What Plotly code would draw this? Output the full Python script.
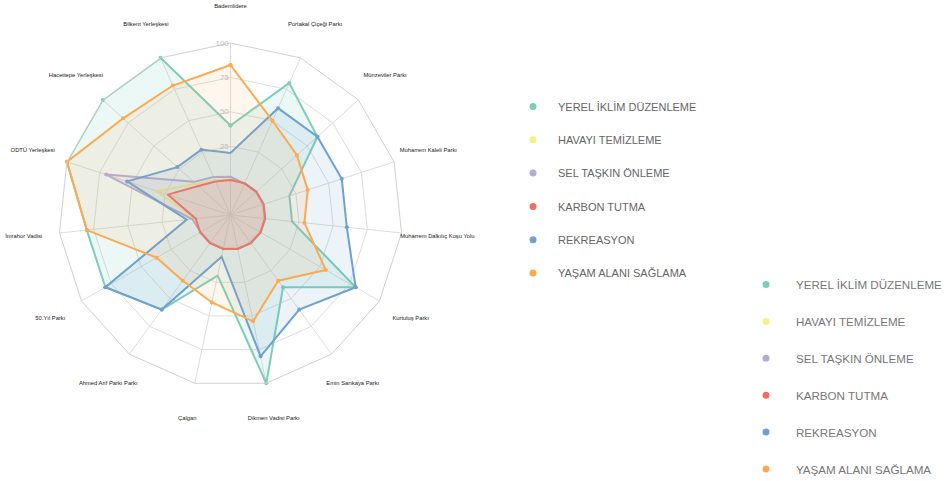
import plotly.graph_objects as go

categories = [
    "Bademlidere", "Portakal Çiçeği Parkı", "Münzeviler Parkı", "Muharrem Kaleli Parkı",
    "Muharrem Dalkılıç Koşu Yolu", "Kurtuluş Parkı", "Emin Sarıkaya Parkı", "Dikmen Vadisi Parkı",
    "Çalgan", "Ahmed Arif Parkı Parkı", "50.Yıl Parkı", "İmrahor Vadisi",
    "ODTÜ Yerleşkesi", "Hacettepe Yerleşkesi", "Bilkent Yerleşkesi",
]

series_names = [
    "YEREL İKLİM DÜZENLEME", "HAVAYI TEMİZLEME", "SEL TAŞKIN ÖNLEME",
    "KARBON TUTMA", "REKREASYON", "YAŞAM ALANI SAĞLAMA",
]

yerel_iklim = [40, 80, 60, 20, 20, 80, 40, 100, 20, 60, 80, 80, 100, 100, 100]
havayi_temizleme = [1, 0, 0, 0, 0, 0, 0, 0, 0, 0, 0, 1, 31, 9, 2.4]
sel_taskin = [2.8, 0, 0, 0, 0, 0, 0, 0, 0, 0, 0, 3, 70, 11, 5.3]
karbon_tutma = [0.4, 0.3, 0.4, 0.4, 0.4, 0.3, 0.2, 0.2, 0.2, 0.3, 0.4, 0.4, 23, 6.5, 1.7]
rekreasyon = [20, 60, 60, 60, 60, 80, 60, 80, 6, 60, 80, 7, 54, 27, 27]
yasam_alani = [84, 50, 40, 34, 29, 55, 34, 54, 40, 34, 37, 80, 100, 80, 78]

radial_ticks = [25, 50, 75, 100]

colors = ["#7dcdb9", "#f5f08c", "#b4aad6", "#f06e5f", "#6ea0d2", "#fbaa50"]
fills = ["rgba(125,205,185,0.15)", "rgba(245,240,140,0.12)", "rgba(180,170,215,0.12)",
         "rgba(240,110,95,0.15)", "rgba(110,160,210,0.13)", "rgba(251,170,80,0.10)"]

all_series = [yerel_iklim, havayi_temizleme, sel_taskin, karbon_tutma, rekreasyon, yasam_alani]

W, H = 948, 481
CX, CY, R = 230.5, 215.0, 172.0      # chart centre / outer ring radius (px)
LABEL_R = 208.0                      # radius of the category names (px)

fig = go.Figure()

for name, vals, col, fc in zip(series_names, all_series, colors, fills):
    fig.add_trace(go.Scatterpolar(
        r=vals + [vals[0]], theta=categories + [categories[0]],
        mode="lines+markers", fill="toself", fillcolor=fc,
        line=dict(color=col, width=2), marker=dict(color=col, size=4),
        name=name, showlegend=False, hoverinfo="r+theta+name", subplot="polar",
    ))

# category names on a second, invisible polar subplot that is a bit larger
fig.add_trace(go.Scatterpolar(
    r=[0.999] * len(categories), theta=categories, mode="text", text=categories,
    textposition="middle center", cliponaxis=False, showlegend=False, hoverinfo="skip",
    textfont=dict(family="Liberation Sans, Arial, sans-serif", size=5.8, color="#1a1a1a"),
    subplot="polar2",
))

# legend 1
for i, (name, col) in enumerate(zip(series_names, colors)):
    fig.add_trace(go.Scatterpolar(
        r=[None], theta=[categories[0]], mode="markers", name=name,
        marker=dict(color=col, size=7), legend="legend", legendgroup=f"a{i}",
    ))
# legend 2
for i, (name, col) in enumerate(zip(series_names, colors)):
    fig.add_trace(go.Scatterpolar(
        r=[None], theta=[categories[0]], mode="markers", name=name,
        marker=dict(color=col, size=7), legend="legend2", legendgroup=f"b{i}",
    ))

R2 = LABEL_R / 0.999

fig.update_layout(
    width=W, height=H,
    margin=dict(l=0, r=0, t=0, b=0, autoexpand=False),
    paper_bgcolor="white",
    font=dict(family="Liberation Sans, Arial, sans-serif"),
    polar=dict(
        domain=dict(x=[(CX - R) / W, (CX + R) / W], y=[1 - (CY + R) / H, 1 - (CY - R) / H]),
        bgcolor="rgba(0,0,0,0)",
        gridshape="linear",
        angularaxis=dict(
            type="category", direction="clockwise", rotation=90,
            showticklabels=False, ticks="", gridcolor="#dddddd", gridwidth=1,
            linecolor="#d0d0d0", linewidth=1, showline=True,
        ),
        radialaxis=dict(
            range=[-25, 100], tickvals=radial_ticks, angle=90, side="counterclockwise",
            tickangle=90, showline=False, ticks="", gridcolor="#dddddd", gridwidth=1,
            tickfont=dict(size=8, color="#c0c0c0"),
        ),
    ),
    polar2=dict(
        domain=dict(x=[(CX - R2) / W, (CX + R2) / W], y=[1 - (CY + R2) / H, 1 - (CY - R2) / H]),
        bgcolor="rgba(0,0,0,0)",
        angularaxis=dict(
            type="category", direction="clockwise", rotation=90, categoryarray=categories,
            categoryorder="array", showticklabels=False, ticks="", showgrid=False, showline=False,
        ),
        radialaxis=dict(range=[0, 1], visible=False),
    ),
    legend=dict(
        x=508 / W, xanchor="left", y=1 - 92 / H, yanchor="top",
        font=dict(size=11, color="#666666"), itemwidth=40,
        traceorder="grouped", tracegroupgap=14.3, bgcolor="rgba(0,0,0,0)",
    ),
    legend2=dict(
        x=736 / W, xanchor="left", y=1 - 270 / H, yanchor="top",
        font=dict(size=11.6, color="#777777"), itemwidth=50,
        traceorder="grouped", tracegroupgap=17.9, bgcolor="rgba(0,0,0,0)",
    ),
)

fig.write_html(
    "out.html",
    config={"displayModeBar": False},
    post_script="document.body.style.margin='0';document.body.style.padding='0';",
)
